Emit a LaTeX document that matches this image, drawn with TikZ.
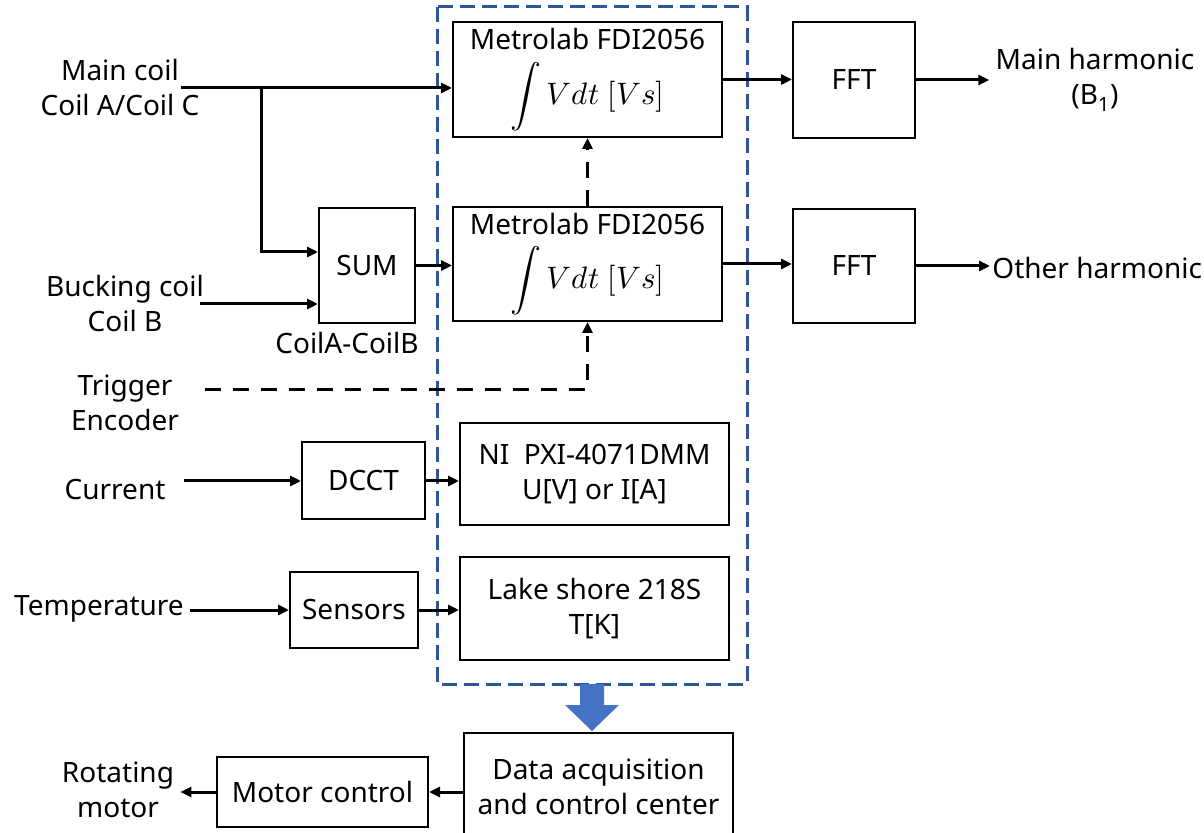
\documentclass[tikz,border=0pt]{standalone}
\usepackage{fontspec}
\usepackage{unicode-math}
\setmainfont{Noto Sans}
\setmathfont{Latin Modern Math}
\usepackage{tikz}
\usetikzlibrary{arrows.meta,positioning,calc}
\definecolor{frameblue}{RGB}{47,85,151}
\definecolor{flowblue}{RGB}{68,114,196}
\newcommand{\fluxint}{{\fontsize{15.5}{18}\selectfont$\displaystyle\int Vdt\ [Vs]$}}

\begin{document}
\begin{tikzpicture}[x=0.5pt,y=-0.5pt, every node/.style={font=\fontsize{14}{17.5}\selectfont}, box/.style={draw,line width=1pt,inner sep=2pt,align=center}, lbl/.style={align=center,inner sep=3pt}, arr/.style={-{Triangle[length=5.5pt,width=5pt]},line width=1.5pt}, dasharr/.style={arr,dash pattern=on 8pt off 6pt}]
\useasboundingbox (0,0) rectangle (1204,833);
% acquisition chain
\node[box,minimum width=134.5pt,minimum height=57.5pt] (met1) at (587.5,79.5) {Metrolab FDI2056\\[5pt]\fluxint};
\node[box,minimum width=134.5pt,minimum height=57pt] (met2) at (587.5,264) {Metrolab FDI2056\\[5pt]\fluxint};
\node[box,minimum width=61pt,minimum height=58pt] (fft1) at (854,80) {FFT};
\node[box,minimum width=61pt,minimum height=57pt] (fft2) at (854,266) {FFT};
\node[box,minimum width=48pt,minimum height=57.5pt] (sum) at (367,265.5) {SUM};
\node[below=1pt of sum,xshift=-10pt,lbl] (diff) {CoilA-CoilB};
\node[box,minimum width=61.5pt,minimum height=38.5pt] (dcct) at (363.5,481) {DCCT};
\node[box,minimum width=134.5pt,minimum height=51pt] (ni) at (594.5,474) {NI\ \ PXI-4071DMM\\U[V] or I[A]};
\node[box,minimum width=64pt,minimum height=38pt] (sens) at (354,610) {Sensors};
\node[box,minimum width=134.5pt,minimum height=51.5pt] (lake) at (594.5,608.5) {Lake shore 218S\\T[K]};
\node[box,minimum width=134.5pt,minimum height=53.5pt] (daq) at (598.5,786.5) {Data acquisition\\and control center};
\node[box,minimum width=105.5pt,minimum height=35pt] (motor) at (322.5,792) {Motor control};
% signal names
\node[lbl] (mainc) at (120,88) {Main coil\\Coil A/Coil C};
\node[lbl] (buck) at (125,304) {Bucking coil\\Coil B};
\node[lbl] (trig) at (125,403) {Trigger\\Encoder};
\node[lbl] (cur) at (115,490) {Current};
\node[lbl] (temp) at (99,609) {Temperature};
\node[lbl] (mainh) at (1095,80) {Main harmonic\\(B\textsubscript{1})};
\node[lbl,anchor=west,inner sep=1pt] (otherh) at (990,268) {Other harmonic};
\node[lbl] (rot) at (118,790) {Rotating\\motor};
\coordinate (mc) at (181,88);
\coordinate (br) at (261,88);
\coordinate (bk) at (200,304);
\coordinate (tg) at (205,390);
% frame round the instruments
\draw[frameblue,line width=1.5pt,dash pattern=on 7.5pt off 3.5pt] (437,7) rectangle (747,684);
% connectors
\draw[arr] (mc) -- (mc -| met1.west);
\draw[arr] (br) |- ($(sum.west)+(0,-13.5)$);
\draw[arr] (bk) -- (bk -| sum.west);
\draw[arr] (sum.east) -- (sum.east -| met2.west);
\draw[dasharr] (tg) -| (met2.south);
\draw[dasharr] (met2.north) -- (met1.south);
\draw[arr] (met1.east) -- (met1.east -| fft1.west);
\draw[arr] (met2.east) -- (met2.east -| fft2.west);
\draw[arr] (fft1.east) -- (fft1.east -| mainh.west);
\draw[arr] (fft2.east) -- (fft2.east -| otherh.west);
\draw[arr,shorten <=6pt] (cur.east |- dcct) -- (dcct.west);
\draw[arr] (dcct.east) -- (dcct.east -| ni.west);
\draw[arr] (temp.east |- sens) -- (sens.west);
\draw[arr] (sens.east) -- (sens.east -| lake.west);
\draw[arr] (daq.west |- motor) -- (motor.east);
\draw[arr] (motor.west) -- (rot.east |- motor);
% block arrow down to the control center
\fill[flowblue] (580,684) -- (604,684) -- (604,705) -- (619,705) -- (592,731) -- (565,705) -- (580,705) -- cycle;
\end{tikzpicture}
\end{document}
